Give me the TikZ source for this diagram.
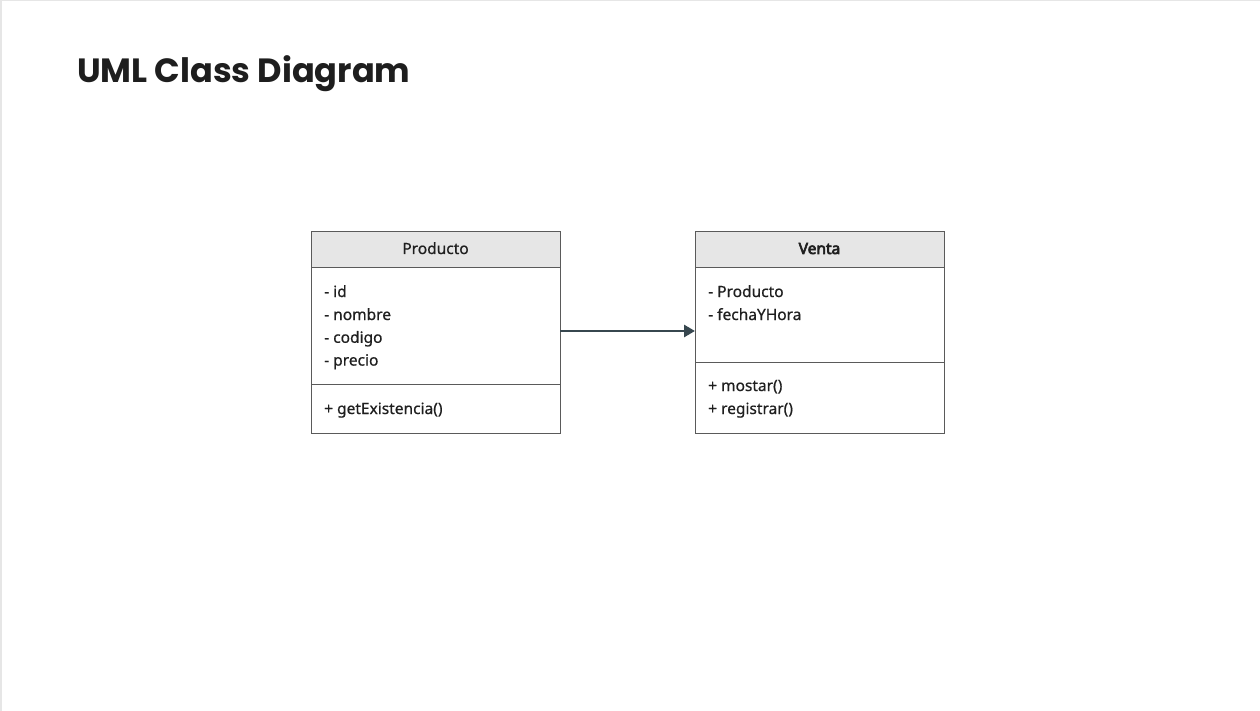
\documentclass[tikz,border=0pt]{standalone}
\usepackage{fontspec}
\setmainfont{Noto Sans}
\newfontfamily\bodyfont{Noto Sans}[FakeBold=0.6]
\newfontfamily\hdrbold{Noto Sans}[FakeBold=4]
\newfontfamily\titlefont{Poppins}
\usetikzlibrary{arrows.meta}
\definecolor{hdrfill}{HTML}{E6E6E6}
\definecolor{boxline}{HTML}{5A5A5A}
\definecolor{arrowcol}{HTML}{37474F}
\definecolor{framecol}{HTML}{E6E6E6}
\definecolor{titlecol}{HTML}{1E1E1E}
\begin{document}
\begin{tikzpicture}[x=1pt,y=-1pt,
  compart/.style={draw=boxline, line width=0.9pt, rectangle, minimum width=249pt, inner sep=0pt, outer sep=0pt},
  header/.style={compart, fill=hdrfill, minimum height=36pt},
  member/.style={anchor=base west, inner sep=0pt, font=\bodyfont\fontsize{15.5}{18}\selectfont, text=black!88},
  hdrtext/.style={anchor=base, inner sep=0pt, font=\bodyfont\fontsize{15.5}{18}\selectfont, text=black!88},
  assoc/.style={draw=arrowcol, line width=2.7pt, -{Triangle[length=11pt,width=12pt]}}
]
\useasboundingbox (0,0) rectangle (1260,711);
\fill[white] (0,0) rectangle (1260,711);
\fill[framecol] (0,0) rectangle (2,711);
\fill[framecol] (0,0) rectangle (1260,1.2);

\node[anchor=base west, inner sep=0pt, text=titlecol, font=\titlefont\bfseries\fontsize{33.6}{38}\selectfont] (title) at (77,83) {UML Class Diagram};

% Producto
\node[header, anchor=north west] (ph) at (311,231) {};
\node[compart, minimum height=117pt, anchor=north] (pa) at (ph.south) {};
\node[compart, minimum height=49pt, anchor=north] (pm) at (pa.south) {};
\node[hdrtext] (phn) at (435.5,254) {Producto};
\node[member] (p1) at (324,297) {- id};
\node[member] (p2) at (324,320) {- nombre};
\node[member] (p3) at (324,342.8) {- codigo};
\node[member] (p4) at (324,365.6) {- precio};
\node[member] (p5) at (324,414) {+ getExistencia()};

% Venta
\node[header, anchor=north west] (vh) at (695,231) {};
\node[compart, minimum height=95pt, anchor=north] (va) at (vh.south) {};
\node[compart, minimum height=71pt, anchor=north] (vm) at (va.south) {};
\node[hdrtext, font=\hdrbold\fontsize{15.5}{18}\selectfont] (vhn) at (819.5,254) {Venta};
\node[member] (v1) at (708,297) {- Producto};
\node[member] (v2) at (708,320) {- fechaYHora};
\node[member] (v3) at (708,391) {+ mostar()};
\node[member] (v4) at (708,414) {+ registrar()};

% association
\draw[assoc] (pa.east |- 0,331) -- (va.west |- 0,331);
\end{tikzpicture}
\end{document}
